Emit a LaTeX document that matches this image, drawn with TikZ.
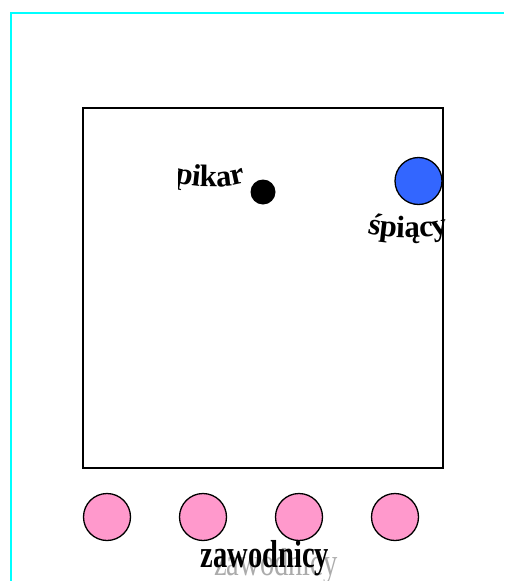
\documentclass[tikz,border=0pt]{standalone}
\usepackage{fontspec}
\setmainfont{Liberation Serif}
\newfontfamily\condfont[FakeStretch=0.73]{Liberation Serif}
\usetikzlibrary{decorations.text}
\definecolor{frameC}{HTML}{00FFFF}
\definecolor{sleepC}{HTML}{3366FF}
\definecolor{playerC}{HTML}{FF99CC}
\begin{document}
\begin{tikzpicture}[x=1pt,y=-1pt,
  player/.style={circle,draw=black,line width=1.3pt,fill=playerC,minimum size=47pt,inner sep=0pt},
  arctext/.style={decorate,decoration={text along path,text align=center,
     text={|\fontsize{31}{31}\selectfont\bfseries|#1}}}]
\useasboundingbox (0,0) rectangle (504,581);
\fill[white] (0,0) rectangle (504,581);
% frame
\draw[frameC,line width=2.4pt] (11,581) -- (11,13) -- (504,13);
% field
\node[draw=black,line width=1.4pt,minimum size=360pt,inner sep=0pt] (field) at (263,288) {};
% ball
\node[circle,fill=black,minimum size=25pt,inner sep=0pt] (ball) at (263,192) {};
\begin{scope}
\clip (178,150) rectangle (243,200);
\path[arctext=pikar] (170,181) .. controls (198,189) and (222,189) .. (250,181);
\end{scope}
% sleeper
\node[circle,draw=black,line width=1.3pt,fill=sleepC,minimum size=47pt,inner sep=0pt] (sleeper) at (418.5,181) {};
\begin{scope}
\clip (368,205) rectangle (449,255);
\path[arctext=śpiący] (360,231) .. controls (390,240) and (426,240) .. (456,231);
\end{scope}
% players
\node[player] (p1) at (107,517) {};
\node[player] (p2) at (203,517) {};
\node[player] (p3) at (299,517) {};
\node[player] (p4) at (395,517) {};
\node[text=black!33,font=\condfont\fontsize{39}{39}\selectfont,anchor=base] (shadow) at (276,575) {zawodnicy};
\node[text=black,font=\condfont\fontsize{39}{39}\selectfont\bfseries,anchor=base] (label) at (265,567) {zawodnicy};
\end{tikzpicture}
\end{document}
